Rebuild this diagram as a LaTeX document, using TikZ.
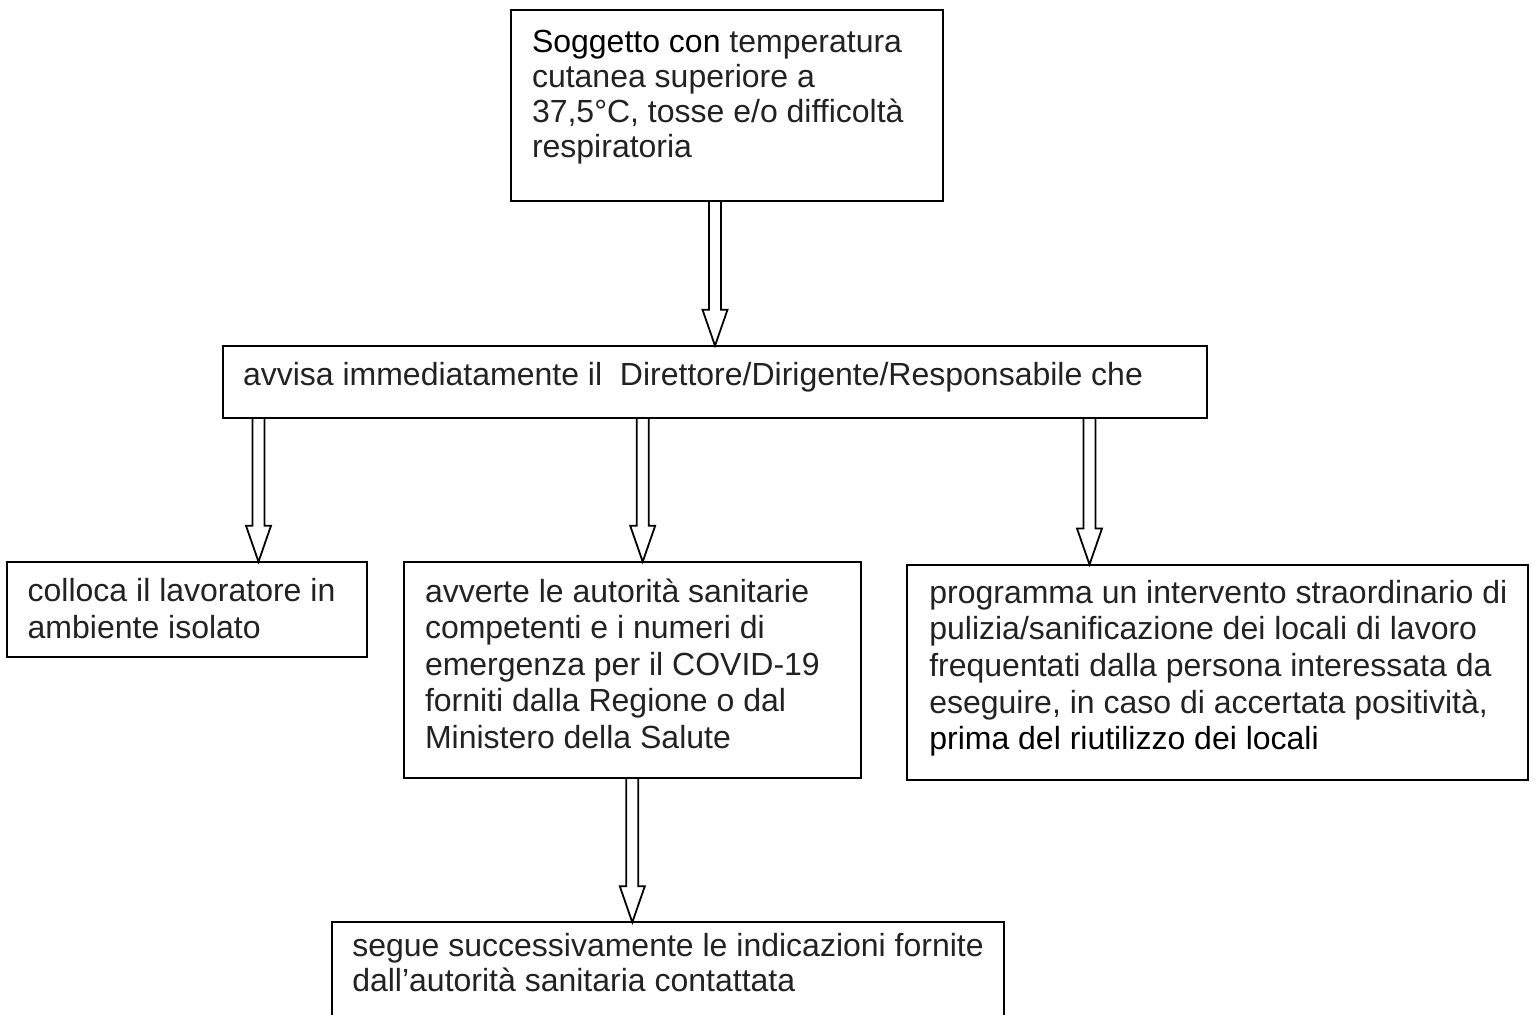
\documentclass[tikz,border=0pt]{standalone}
\usepackage{fontspec}
\setmainfont{Liberation Sans}
\usetikzlibrary{calc}
\definecolor{txtc}{HTML}{222222}
\newcommand{\blockarrow}[3]{%
  \coordinate (ba) at (#3,0);
  \draw[blk] ($(#1.south -| ba)+(-6,0)$) -- ($(#2.north -| ba)+(-6,-36)$)
    -- ($(#2.north -| ba)+(-12.5,-36)$) -- (#2.north -| ba)
    -- ($(#2.north -| ba)+(12.5,-36)$) -- ($(#2.north -| ba)+(6,-36)$)
    -- ($(#1.south -| ba)+(6,0)$);}
\newcommand{\fs}{\rule{0pt}{12.6pt}}
\begin{document}
\begin{tikzpicture}[x=0.5pt,y=-0.5pt,
  boxn/.style={draw=black, line width=1pt, inner sep=0pt, outer sep=0pt, anchor=north west},
  txt/.style={anchor=north west, inner sep=0pt, outer sep=0pt, align=left, text=txtc},
  tight/.style={font=\fontsize{16pt}{17.5pt}\selectfont},
  loose/.style={font=\fontsize{16pt}{18.3pt}\selectfont},
  blk/.style={draw=black, line width=0.9pt, line join=miter}]
\useasboundingbox (0,0) rectangle (1535,1014);
\clip (0,0) rectangle (1535,1014);
% boxes
\node[boxn, minimum width=216pt, minimum height=95.5pt] (b1) at (511,10) {};
\node[boxn, minimum width=492.15pt, minimum height=36pt] (b2) at (222.7,345.7) {};
\node[boxn, minimum width=180.25pt, minimum height=47.8pt] (b3) at (6.5,561.7) {};
\node[boxn, minimum width=228.35pt, minimum height=107.9pt] (b4) at (404.3,561.7) {};
\node[boxn, minimum width=310.2pt, minimum height=107.75pt] (b5) at (907.3,564.5) {};
\node[boxn, minimum width=336pt, minimum height=59pt] (b6) at (332.3,922.3) {};
% texts
\node[txt, tight] (t1) at (532,26.8) {\fs\textcolor{black}{Soggetto con} temperatura\\cutanea superiore a\\37,5°C, tosse e/o difficoltà\\respiratoria};
\node[txt, tight] (t2) at (243,359.8) {\fs avvisa immediatamente il~ Direttore/Dirigente/Responsabile che};
\node[txt, loose] (t3) at (27.7,576.5) {\fs colloca il lavoratore in\\ambiente isolato};
\node[txt, loose] (t4) at (425,576.8) {\fs avverte le autorità sanitarie\\competenti e i numeri di\\emergenza per il COVID-19\\forniti dalla Regione o dal\\Ministero della Salute};
\node[txt, loose] (t5) at (929.3,578.1) {\fs programma un intervento straordinario di\\pulizia/sanificazione dei locali di lavoro\\frequentati dalla persona interessata da\\eseguire, in caso di accertata positività,\\\textcolor{black}{prima del riutilizzo dei locali}};
\node[txt, tight] (t6) at (352.3,931.5) {\fs segue successivamente le indicazioni fornite\\dall’autorità sanitaria contattata};
% arrows
\blockarrow{b1}{b2}{715}
\blockarrow{b2}{b3}{258.5}
\blockarrow{b2}{b4}{642.7}
\blockarrow{b2}{b5}{1089.5}
\blockarrow{b4}{b6}{632.3}
\end{tikzpicture}
\end{document}
